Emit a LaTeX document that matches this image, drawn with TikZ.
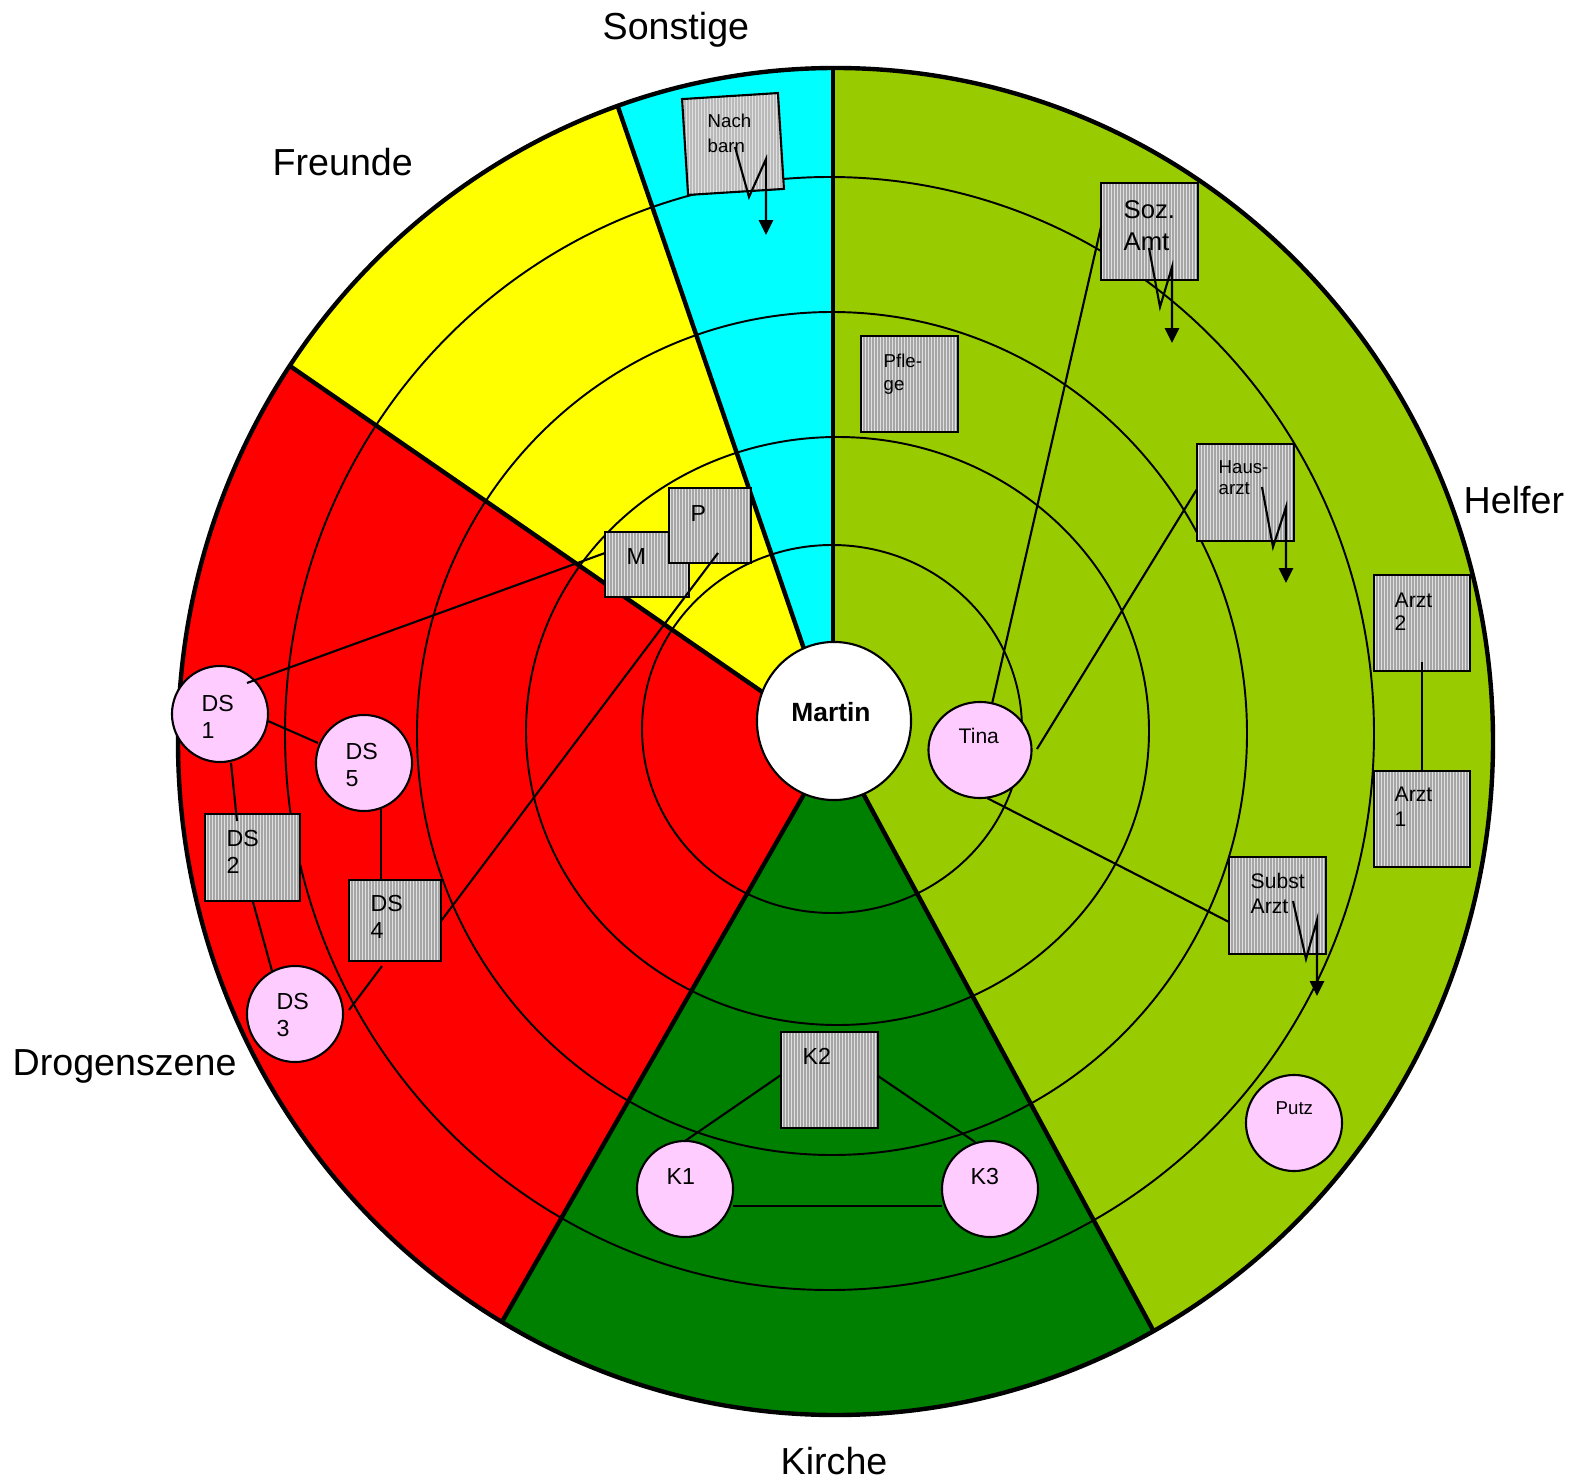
\documentclass[tikz,border=0pt]{standalone}
\usepackage{fontspec}
\setmainfont{Liberation Sans}
\usetikzlibrary{arrows.meta,shapes.geometric}
\definecolor{helfer}{RGB}{153,204,0}
\definecolor{kirche}{RGB}{0,128,0}
\definecolor{drogen}{RGB}{255,0,0}
\definecolor{freunde}{RGB}{255,255,0}
\definecolor{sonst}{RGB}{0,255,255}
\definecolor{pinkc}{RGB}{255,204,255}
\definecolor{stripe}{RGB}{165,165,165}
\newcommand\fs[2]{\fontsize{#1}{#2}\selectfont}
\begin{document}
\begin{tikzpicture}[x=0.01cm,y=-0.01cm,
  ring/.style={line width=0.55pt},
  sectorline/.style={line width=1.25pt},
  hbox/.style={draw, line width=0.6pt, inner sep=0pt, fill=white!88!black,
    path picture={\foreach \k in {1,...,33}{\draw[stripe, line width=0.013cm]
      ([xshift=\k*0.03cm]path picture bounding box.south west) --
      ([xshift=\k*0.03cm]path picture bounding box.north west);}}},
  pcirc/.style={draw, circle, line width=0.6pt, fill=pinkc, minimum size=0.96cm, inner sep=0pt},
  txt/.style={anchor=north west, inner sep=0pt, align=left},
  cat/.style={anchor=base west, inner sep=0pt, font=\fs{10.7}{13}},
  conn/.style={line width=0.6pt},
  zz/.style={line width=0.6pt, -{Triangle[width=4pt,length=4.2pt]}}
]
\fill[white] (0,0) rectangle (1569,1482);
\useasboundingbox (0,0) rectangle (1569,1482);

% sector geometry
\coordinate (C) at (834,721);
\coordinate (I1) at (833,700);   \coordinate (O1) at (833,68);   \coordinate (E1) at (833,-122);
\coordinate (I2) at (821.5,700); \coordinate (O2) at (618,107);  \coordinate (E2) at (557,-71);
\coordinate (I3) at (800,718);   \coordinate (O3) at (290,366);  \coordinate (E3) at (137,260);
\coordinate (I4) at (823.6,760); \coordinate (O4) at (503,1320); \coordinate (E4) at (407,1488);
\coordinate (I5) at (845,760);   \coordinate (O5) at (1153,1330);\coordinate (E5) at (1245,1501);

\begin{scope}
  \clip (C)--(I1)--(E1)--(E2)--(I2)--cycle;
  \fill[sonst] (835.5,741.5) ellipse [x radius=657.5, y radius=673.5];
\end{scope}
\begin{scope}
  \clip (C)--(I2)--(E2)--(E3)--(I3)--cycle;
  \fill[freunde] (835.5,741.5) ellipse [x radius=657.5, y radius=673.5];
\end{scope}
\begin{scope}
  \clip (C)--(I3)--(E3)--(-300,260)--(-300,1600)--(E4)--(I4)--cycle;
  \fill[drogen] (835.5,741.5) ellipse [x radius=657.5, y radius=673.5];
\end{scope}
\begin{scope}
  \clip (C)--(I4)--(E4)--(E5)--(I5)--cycle;
  \fill[kirche] (835.5,741.5) ellipse [x radius=657.5, y radius=673.5];
\end{scope}
\begin{scope}
  \clip (C)--(I5)--(E5)--(1800,1501)--(1800,-122)--(E1)--(I1)--cycle;
  \fill[helfer] (835.5,741.5) ellipse [x radius=657.5, y radius=673.5];
\end{scope}

% rings
\draw[ring] (832,729) ellipse [x radius=190, y radius=184];
\draw[ring] (837.5,731) ellipse [x radius=311.5, y radius=294];
\draw[ring] (832,733.5) ellipse [x radius=415, y radius=421.5];
\draw[ring] (829.5,733.5) ellipse [x radius=544.5, y radius=556.5];

% sector boundaries
\draw[sectorline] (O1)--(I1);
\draw[sectorline] (O2)--(I2);
\draw[sectorline] (O3)--(I3);
\draw[sectorline] (O4)--(I4);
\draw[sectorline] (O5)--(I5);
\draw[line width=1.25pt] (835.5,741.5) ellipse [x radius=657.5, y radius=673.5];

% centre
\node[draw, ellipse, fill=white, line width=0.6pt, minimum width=1.54cm, minimum height=1.58cm, inner sep=0pt] (martin) at (834,721) {};
\node[inner sep=0pt, font=\fs{7.5}{9}\bfseries] (martinT) at (831,712.5) {Martin};

% boxes
\node[hbox, minimum width=0.96cm, minimum height=0.96cm, rotate=3.6] (nachbarn) at (733,144) {};
\node[hbox, minimum width=0.97cm, minimum height=0.97cm] (sozamt) at (1149.5,231.5) {};
\node[hbox, minimum width=0.97cm, minimum height=0.96cm] (pflege) at (909.5,384) {};
\node[hbox, minimum width=0.97cm, minimum height=0.97cm] (hausarzt) at (1245.5,492.5) {};
\node[hbox, minimum width=0.96cm, minimum height=0.96cm] (arzt2) at (1422,623) {};
\node[hbox, minimum width=0.96cm, minimum height=0.96cm] (arzt1) at (1422,819) {};
\node[hbox, minimum width=0.97cm, minimum height=0.97cm] (subst) at (1277.5,905.5) {};
\node[hbox, minimum width=0.84cm, minimum height=0.65cm] (m) at (647,564.5) {};
\node[hbox, minimum width=0.82cm, minimum height=0.75cm] (p) at (710,525.5) {};
\node[hbox, minimum width=0.95cm, minimum height=0.87cm] (ds2) at (252.5,857.5) {};
\node[hbox, minimum width=0.92cm, minimum height=0.81cm] (ds4) at (395,920.5) {};
\node[hbox, minimum width=0.97cm, minimum height=0.96cm] (k2) at (829.5,1080) {};

% circles
\node[pcirc] (ds1) at (220,714) {};
\node[pcirc] (ds5) at (364,763) {};
\node[pcirc] (ds3) at (295,1014) {};
\node[pcirc] (k1) at (685,1189) {};
\node[pcirc] (k3) at (990,1189) {};
\node[pcirc, ellipse, minimum width=1.03cm, minimum height=0.96cm] (tina) at (980,750) {};
\node[pcirc] (putz) at (1294,1123) {};

% texts
\node[txt, font=\fs{5.3}{7.1}] (nachbarnT) at (707,113.5) {Nach\\barn};
\node[txt, font=\fs{7.3}{9.1}] (sozamtT) at (1123,200) {Soz.\\Amt};
\node[txt, font=\fs{5.3}{6.5}] (pflegeT) at (883,353) {Pfle-\\ge};
\node[txt, font=\fs{5.3}{6.0}] (hausarztT) at (1218,460) {Haus-\\arzt};
\node[txt, font=\fs{6}{6.5}] (arzt2T) at (1394,592) {Arzt\\2};
\node[txt, font=\fs{6}{7.1}] (arzt1T) at (1394,786) {Arzt\\1};
\node[txt, font=\fs{6}{7.1}] (substT) at (1250,873) {Subst\\Arzt};
\node[txt, font=\fs{6.6}{7.6}] (pT) at (690,505) {P};
\node[txt, font=\fs{6.6}{7.6}] (mT) at (626,548) {M};
\node[txt, font=\fs{6.6}{7.6}] (ds1T) at (201,695) {DS\\1};
\node[txt, font=\fs{6.6}{7.6}] (ds5T) at (345,743) {DS\\5};
\node[txt, font=\fs{6.6}{7.6}] (ds2T) at (226,830) {DS\\2};
\node[txt, font=\fs{6.6}{7.6}] (ds4T) at (370,895) {DS\\4};
\node[txt, font=\fs{6.6}{7.6}] (ds3T) at (276,993) {DS\\3};
\node[txt, font=\fs{6.6}{7.6}] (k2T) at (802,1048) {K2};
\node[txt, font=\fs{6.6}{7.6}] (k1T) at (666,1168) {K1};
\node[txt, font=\fs{6.6}{7.6}] (k3T) at (970,1168) {K3};
\node[txt, font=\fs{6}{7}] (tinaT) at (958,728) {Tina};
\node[txt, font=\fs{5.3}{6}] (putzT) at (1275,1101) {Putz};

% connectors
\coordinate (tinaA) at (992,704);   \coordinate (sozA) at (1101,227);
\coordinate (tinaB) at (1037,749);  \coordinate (hausA) at (1197,489);
\coordinate (tinaC) at (987,798);   \coordinate (substA) at (1229,922);
\coordinate (arzt2A) at (1422,662); \coordinate (arzt1A) at (1422,771);
\coordinate (pA) at (718,553);      \coordinate (ds4A) at (441,921);
\coordinate (mA) at (605,553);      \coordinate (ds1A) at (247,683);
\coordinate (ds1B) at (268,721);    \coordinate (ds5A) at (318,743);
\coordinate (ds1C) at (231,763);    \coordinate (ds2A) at (237,821);
\coordinate (ds2B) at (253,902);    \coordinate (ds3A) at (272,971);
\coordinate (ds5B) at (381,809);    \coordinate (ds4B) at (381,880);
\coordinate (ds3B) at (349,1010);   \coordinate (ds4C) at (382,966);
\coordinate (k1A) at (685,1141);    \coordinate (k2A) at (781,1075);
\coordinate (k2B) at (878,1076);    \coordinate (k3A) at (975,1142);
\coordinate (k1B) at (733,1206);    \coordinate (k3B) at (942,1206);
\draw[conn] (tinaA) -- (sozA);
\draw[conn] (tinaB) -- (hausA);
\draw[conn] (tinaC) -- (substA);
\draw[conn] (arzt2A) -- (arzt1A);
\draw[conn] (pA) -- (ds4A);
\draw[conn] (mA) -- (ds1A);
\draw[conn] (ds1B) -- (ds5A);
\draw[conn] (ds1C) -- (ds2A);
\draw[conn] (ds2B) -- (ds3A);
\draw[conn] (ds5B) -- (ds4B);
\draw[conn] (ds3B) -- (ds4C);
\draw[conn] (k1A) -- (k2A);
\draw[conn] (k2B) -- (k3A);
\draw[conn] (k1B) -- (k3B);

% zigzag arrows
\coordinate (na1) at (735,147);  \coordinate (na2) at (749,197);  \coordinate (na3) at (766,159);  \coordinate (na4) at (766,235);
\coordinate (sa1) at (1149,248); \coordinate (sa2) at (1160,307); \coordinate (sa3) at (1172,267); \coordinate (sa4) at (1172,343);
\coordinate (ha1) at (1262,487); \coordinate (ha2) at (1273,547); \coordinate (ha3) at (1286,507); \coordinate (ha4) at (1286,583);
\coordinate (ua1) at (1293,901); \coordinate (ua2) at (1306,959); \coordinate (ua3) at (1317,920); \coordinate (ua4) at (1317,996);
\draw[zz] (na1) -- (na2) -- (na3) -- (na4);
\draw[zz] (sa1) -- (sa2) -- (sa3) -- (sa4);
\draw[zz] (ha1) -- (ha2) -- (ha3) -- (ha4);
\draw[zz] (ua1) -- (ua2) -- (ua3) -- (ua4);

% category labels
\node[cat] (sonstigeL) at (602,40) {Sonstige};
\node[cat] (freundeL) at (272,176) {Freunde};
\node[cat] (helferL) at (1463,513) {Helfer};
\node[cat] (drogenL) at (12,1075) {Drogenszene};
\node[cat] (kircheL) at (780,1474) {Kirche};
\end{tikzpicture}
\end{document}
